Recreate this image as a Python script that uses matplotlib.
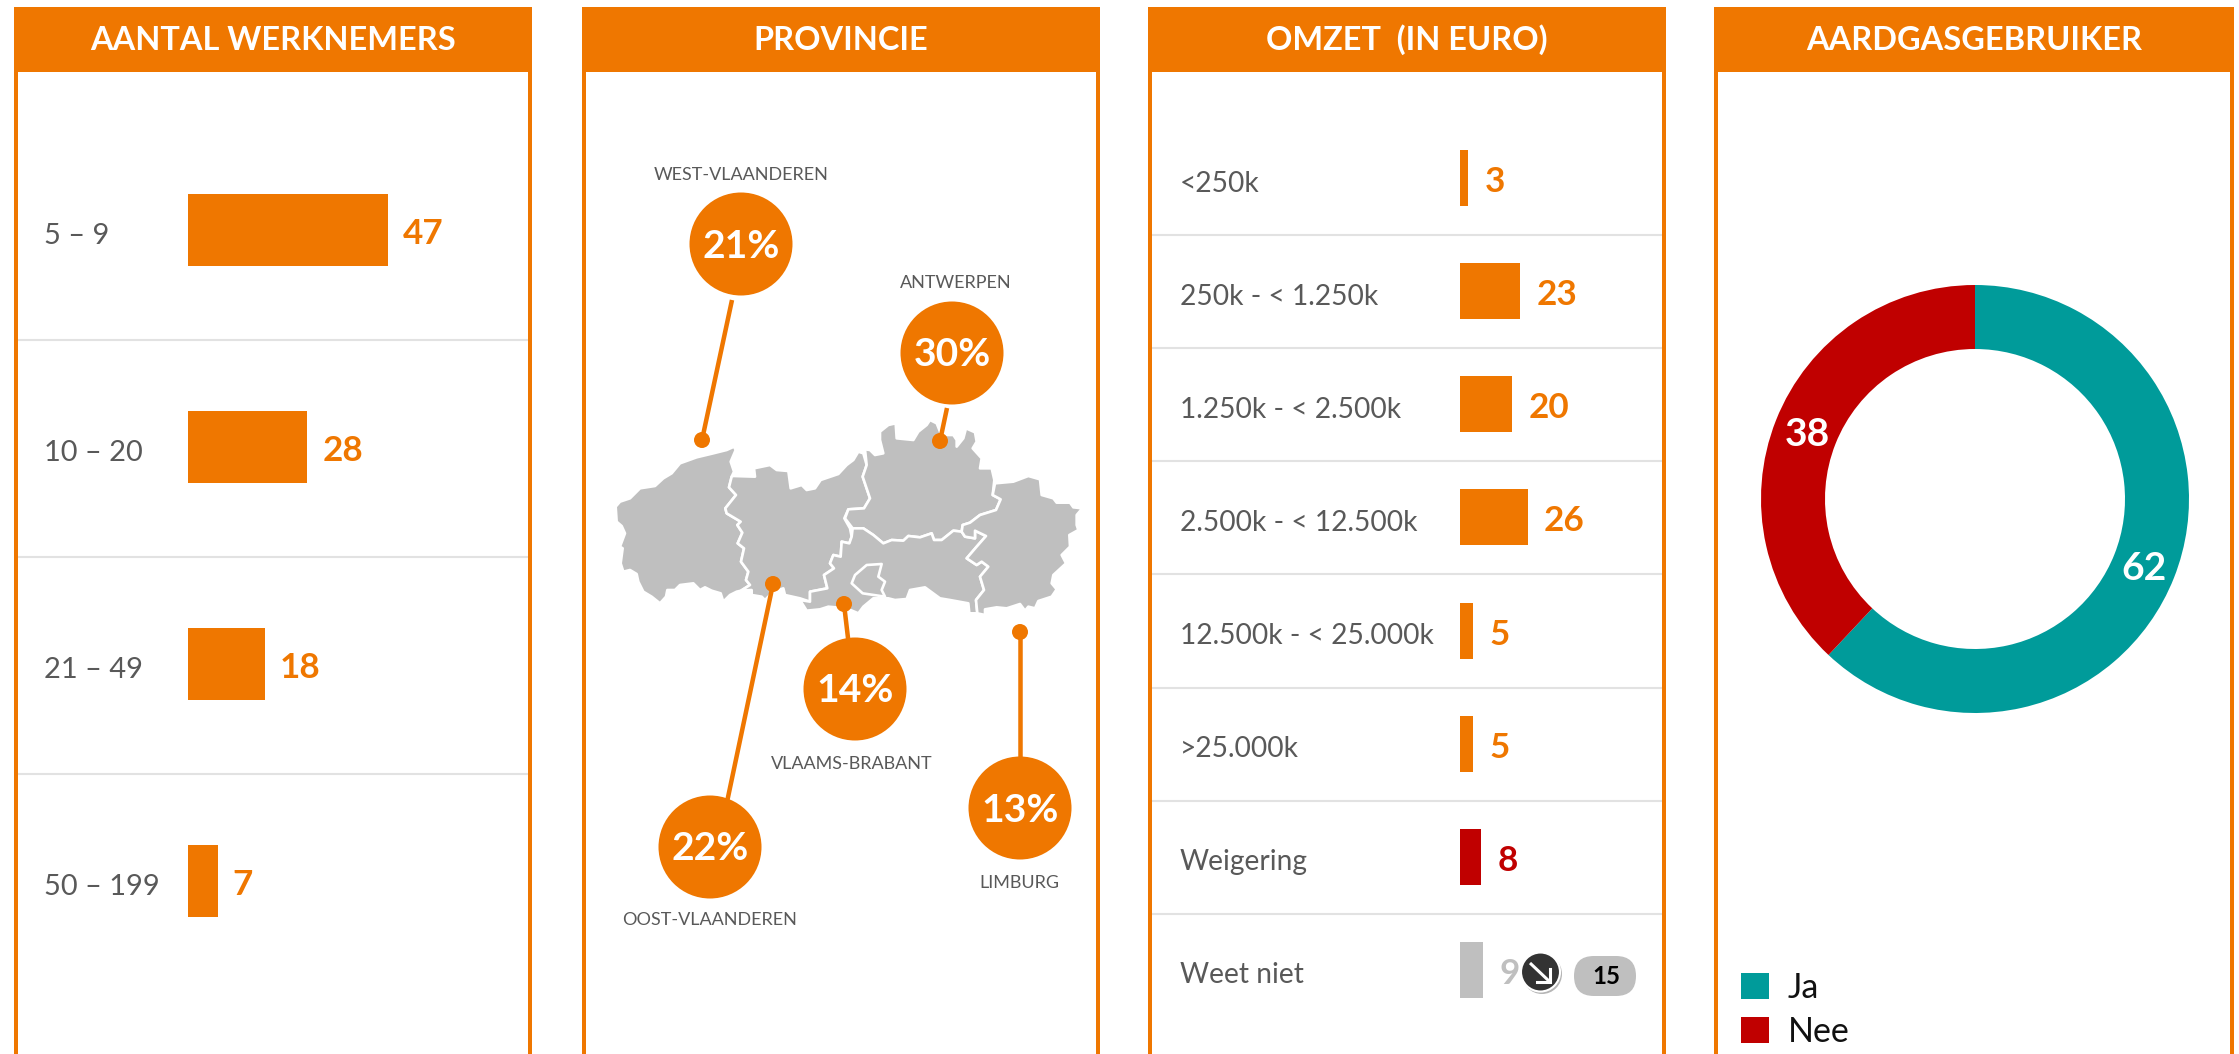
import numpy as np
import matplotlib
matplotlib.use("Agg")
import matplotlib.pyplot as plt
from matplotlib.patches import Rectangle, Circle, Polygon, FancyBboxPatch, Patch
from matplotlib.transforms import ScaledTranslation

plt.rcParams['font.family'] = ['Lato', 'DejaVu Sans']

W, H = 2239, 1054
ORANGE = '#EF7700'
RED = '#C00000'
TEAL = '#009B9A'
GREY = '#BFBFBF'
TXT = '#595959'
RULE = '#E2E2E2'

# ---------- data ----------
panel_titles = ['AANTAL WERKNEMERS', 'PROVINCIE', 'OMZET  (IN EURO)', 'AARDGASGEBRUIKER']

emp_labels = ['5 – 9', '10 – 20', '21 – 49', '50 – 199']
emp_values = [47, 28, 18, 7]

prov_names = ['WEST-VLAANDEREN', 'ANTWERPEN', 'VLAAMS-BRABANT', 'OOST-VLAANDEREN', 'LIMBURG']
prov_values = [21, 30, 14, 22, 13]

rev_labels = ['<250k', '250k - < 1.250k', '1.250k - < 2.500k', '2.500k - < 12.500k',
              '12.500k - < 25.000k', '>25.000k', 'Weigering', 'Weet niet']
rev_values = [3, 23, 20, 26, 5, 5, 8, 9]
rev_colors = [ORANGE] * 6 + [RED, GREY]
rev_previous = 15

gas_labels = ['Ja', 'Nee']
gas_values = [62, 38]

# province outlines
west = [(462,140),(467,150),(452,185),(462,215),(455,230),(447,262),(468,285),(436,325),(440,340),(482,365),(472,375),(487,398),(473,430),(492,445),(483,485),(505,515),(498,540),(510,555),(483,572),(470,575),(450,585),(430,605),(422,580),(395,572),(375,562),(360,570),(340,550),(300,555),(285,570),(262,570),(258,590),(240,610),(215,590),(190,575),(175,545),(170,522),(150,510),(130,515),(122,490),(128,445),(120,440),(135,400),(125,378),(110,365),(107,320),(120,305),(150,295),(180,265),(225,258),(250,235),(275,220),(300,190),(350,172),(400,160),(440,150)]
oost = [(460,228),(525,230),(522,205),(570,195),(590,210),(625,213),(632,265),(665,255),(680,270),(705,265),(722,240),(775,222),(800,195),(820,180),(835,155),(850,160),(860,195),(848,230),(870,295),(852,325),(805,328),(793,355),(810,385),(815,410),(808,430),(785,425),(782,470),(760,465),(750,490),(762,505),(732,525),(742,565),(690,575),(690,605),(660,595),(615,585),(610,565),(580,575),(555,600),(545,590),(515,585),(515,570),(483,572),(510,555),(498,540),(505,515),(483,485),(492,445),(473,430),(487,398),(472,375),(482,365),(440,340),(436,325),(468,285),(447,262),(455,230)]
antw = [(855,148),(870,150),(885,165),(910,160),(900,120),(900,95),(925,75),(947,70),(950,115),(1000,120),(1015,95),(1040,75),(1050,60),(1070,70),(1080,95),(1100,105),(1120,105),(1130,120),(1130,140),(1150,115),(1158,85),(1185,97),(1190,125),(1178,145),(1205,175),(1200,205),(1235,205),(1243,240),(1238,285),(1262,298),(1248,330),(1200,345),(1170,368),(1148,375),(1145,395),(1120,392),(1085,420),(1062,420),(1055,400),(1020,412),(985,408),(970,422),(935,420),(910,430),(880,405),(850,385),(818,385),(795,355),(805,328),(852,325),(870,295),(848,230),(860,195)]
brab = [(818,385),(850,385),(880,405),(910,430),(935,420),(970,422),(985,408),(1020,412),(1055,400),(1062,420),(1085,420),(1120,392),(1145,395),(1155,410),(1185,415),(1185,392),(1218,408),(1190,440),(1160,475),(1190,495),(1205,485),(1225,500),(1200,530),(1212,570),(1188,600),(1192,640),(1168,640),(1165,610),(1110,600),(1080,595),(1035,562),(990,570),(980,597),(945,600),(925,595),(880,595),(850,620),(835,640),(800,625),(745,620),(720,628),(680,632),(660,600),(690,605),(690,575),(742,565),(732,525),(762,505),(750,490),(760,465),(782,470),(785,425),(808,430),(815,410)]
brus = [(860,495),(905,492),(895,530),(915,545),(905,570),(915,590),(848,580),(815,550),(825,525)]
limb = [(1245,250),(1300,245),(1345,228),(1380,238),(1385,285),(1420,295),(1430,308),(1470,308),(1480,322),(1507,325),(1490,345),(1490,375),(1495,390),(1468,405),(1470,440),(1445,465),(1458,490),(1420,525),(1415,550),(1430,568),(1415,590),(1375,603),(1365,625),(1345,620),(1335,632),(1320,612),(1280,625),(1250,622),(1215,628),(1215,645),(1192,640),(1188,600),(1212,570),(1200,530),(1225,500),(1205,485),(1190,495),(1160,475),(1190,440),(1218,408),(1185,392),(1185,415),(1155,410),(1145,395),(1148,375),(1170,368),(1200,345),(1248,330),(1262,298),(1238,285)]
map_shapes = [west, oost, antw, brab, limb]

# ---------- page ----------
fig = plt.figure(figsize=(W / 100, H / 100), dpi=100, facecolor='white')
page = fig.add_axes([0, 0, 1, 1])
page.set_xlim(0, W); page.set_ylim(H, 0); page.axis('off')

def pt(px):
    return px * 0.72

def sub_axes(x0, y0, x1, y1):
    ax = fig.add_axes([x0 / W, 1 - y1 / H, (x1 - x0) / W, (y1 - y0) / H])
    ax.patch.set_alpha(0)
    for s in ax.spines.values():
        s.set_visible(False)
    return ax

def nudge_ticklabels(ax, dy_px):
    off = ScaledTranslation(0, -dy_px / 100, fig.dpi_scale_trans)
    for lab in ax.get_yticklabels():
        lab.set_transform(lab.get_transform() + off)

panels = [(14, 532), (582, 1100), (1148, 1666), (1714, 2234)]
for (x0, x1), title in zip(panels, panel_titles):
    page.add_patch(Rectangle((x0, 7), x1 - x0, 65, fc=ORANGE, ec='none'))
    page.add_patch(Rectangle((x0, 7), 4, H, fc=ORANGE, ec='none'))
    page.add_patch(Rectangle((x1 - 4, 7), 4, H, fc=ORANGE, ec='none'))
    page.text((x0 + x1) / 2, 40, title, color='white', fontsize=pt(32.5), fontweight='bold',
              ha='center', va='center')

def separators(ys, x0, x1):
    for y in ys:
        page.plot([x0 + 4, x1 - 4], [y, y], color=RULE, lw=1.5, solid_capstyle='butt')

# ---------- panel 1 ----------
separators([340, 557, 774], *panels[0])
ax = sub_axes(188, 122, 188 + 425.5, 989.5)
ax.barh(range(4), emp_values, height=0.332, color=ORANGE)
ax.set_xlim(0, 100); ax.set_ylim(3.5, -0.5)
ax.xaxis.set_visible(False)
ax.set_yticks(range(4), emp_labels, ha='left', color=TXT, fontsize=pt(29))
ax.tick_params(axis='y', length=0, pad=pt(144))
nudge_ticklabels(ax, 3)
for i, v in enumerate(emp_values):
    ax.annotate(str(v), (v, i), xytext=(pt(15), -pt(4)), textcoords='offset points', color=ORANGE,
                fontsize=pt(35), fontweight='bold', va='center', ha='left')

# ---------- panel 2 ----------
map_x0, map_y0 = 580, 400
for shape in map_shapes:
    xy = np.array(shape, dtype=float) / 3 + [map_x0, map_y0]
    page.add_patch(Polygon(xy, closed=True, fc=GREY, ec='white', lw=1.9, joinstyle='round', zorder=2))
page.add_patch(Polygon(np.array(brus, dtype=float) / 3 + [map_x0, map_y0], closed=True,
                       fc=GREY, ec='white', lw=1.9, joinstyle='round', zorder=3))

circle_xy = [(741, 244), (952, 353), (855, 689), (710, 847), (1020, 808)]
line_end = [(732, 300), (947, 408), (854, 689), (727, 802), (1020, 808)]
dot_xy = [(702, 440), (940, 441), (844, 604), (773, 584), (1020, 632)]
label_xy = [(741, 175), (956, 283), (852, 764), (710, 920), (1019, 883)]
for name, v, c, e, d, l in zip(prov_names, prov_values, circle_xy, line_end, dot_xy, label_xy):
    page.plot([e[0], d[0]], [e[1], d[1]], color=ORANGE, lw=pt(4.5), zorder=4, solid_capstyle='butt')
    page.add_patch(Circle(d, 8, fc=ORANGE, ec='none', zorder=5))
    page.add_patch(Circle(c, 51.5, fc=ORANGE, ec='none', zorder=5))
    page.text(c[0], c[1] + 2, f'{v}%', color='white', fontsize=pt(39), fontweight='bold',
              ha='center', va='center', zorder=6)
    page.text(l[0], l[1], name, color=TXT, fontsize=pt(18), ha='center', va='center', zorder=6)

# ---------- panel 3 ----------
separators([235, 348, 461, 574, 688, 801, 914], *panels[2])
ax = sub_axes(1460, 121.5, 1460 + 260, 1026.5)
ax.barh(range(8), rev_values, height=56 / 113.1, color=rev_colors)
ax.set_xlim(0, 100); ax.set_ylim(7.5, -0.5)
ax.xaxis.set_visible(False)
ax.set_yticks(range(8), rev_labels, ha='left', color=TXT, fontsize=pt(28.1))
ax.tick_params(axis='y', length=0, pad=pt(280))
nudge_ticklabels(ax, 3)
for i, (v, col) in enumerate(zip(rev_values, rev_colors)):
    ax.annotate(str(v), (v, i), xytext=(pt(16.5), -pt(4)), textcoords='offset points', color=col,
                fontsize=pt(35), fontweight='bold', va='center', ha='left')

# trend arrow and previous value
page.add_patch(Circle((1542, 974), 20, fc='#B5B5B5', ec='none', zorder=5))
page.add_patch(Circle((1540.5, 972), 19.5, fc='#333333', ec='white', lw=1.5, zorder=6))
page.plot([1530, 1550], [963, 982], color='white', lw=2.2, zorder=7, solid_capstyle='butt')
page.plot([1537, 1550, 1550], [982, 982, 969], color='white', lw=2.2, zorder=7, solid_joinstyle='miter')
page.add_patch(FancyBboxPatch((1574, 956), 62, 40, boxstyle='round,pad=0,rounding_size=20',
                              fc=GREY, ec='none', zorder=5))
page.text(1606, 977, str(rev_previous), color='black', fontsize=pt(24), fontweight='bold',
          ha='center', va='center', zorder=6)

# ---------- panel 4 ----------
R = 214
ax = sub_axes(1975 - R, 499 - R, 1975 + R, 499 + R)
ax.pie(gas_values, colors=[TEAL, RED], startangle=90, counterclock=False, radius=1,
       wedgeprops=dict(width=64 / R, linewidth=0))
ax.set_xlim(-1, 1); ax.set_ylim(-1, 1); ax.set_aspect('equal')
gas_text_xy = [(0.79, -0.325), (-0.785, 0.30)]
for v, (tx, ty) in zip(gas_values, gas_text_xy):
    ax.text(tx, ty, str(v), color='white', fontsize=pt(39), fontweight='bold', ha='center', va='center')

handles = [Patch(fc=TEAL, ec='none'), Patch(fc=RED, ec='none')]
fig.legend(handles, gas_labels, loc='lower left', bbox_to_anchor=(1741 / W, 1 - 1048 / H),
           frameon=False, fontsize=pt(34), handlelength=0.82, handleheight=0.82,
           handletextpad=0.55, labelspacing=0.36, labelcolor='#111111', borderpad=0, borderaxespad=0)

fig.savefig('out.png', dpi=100)
